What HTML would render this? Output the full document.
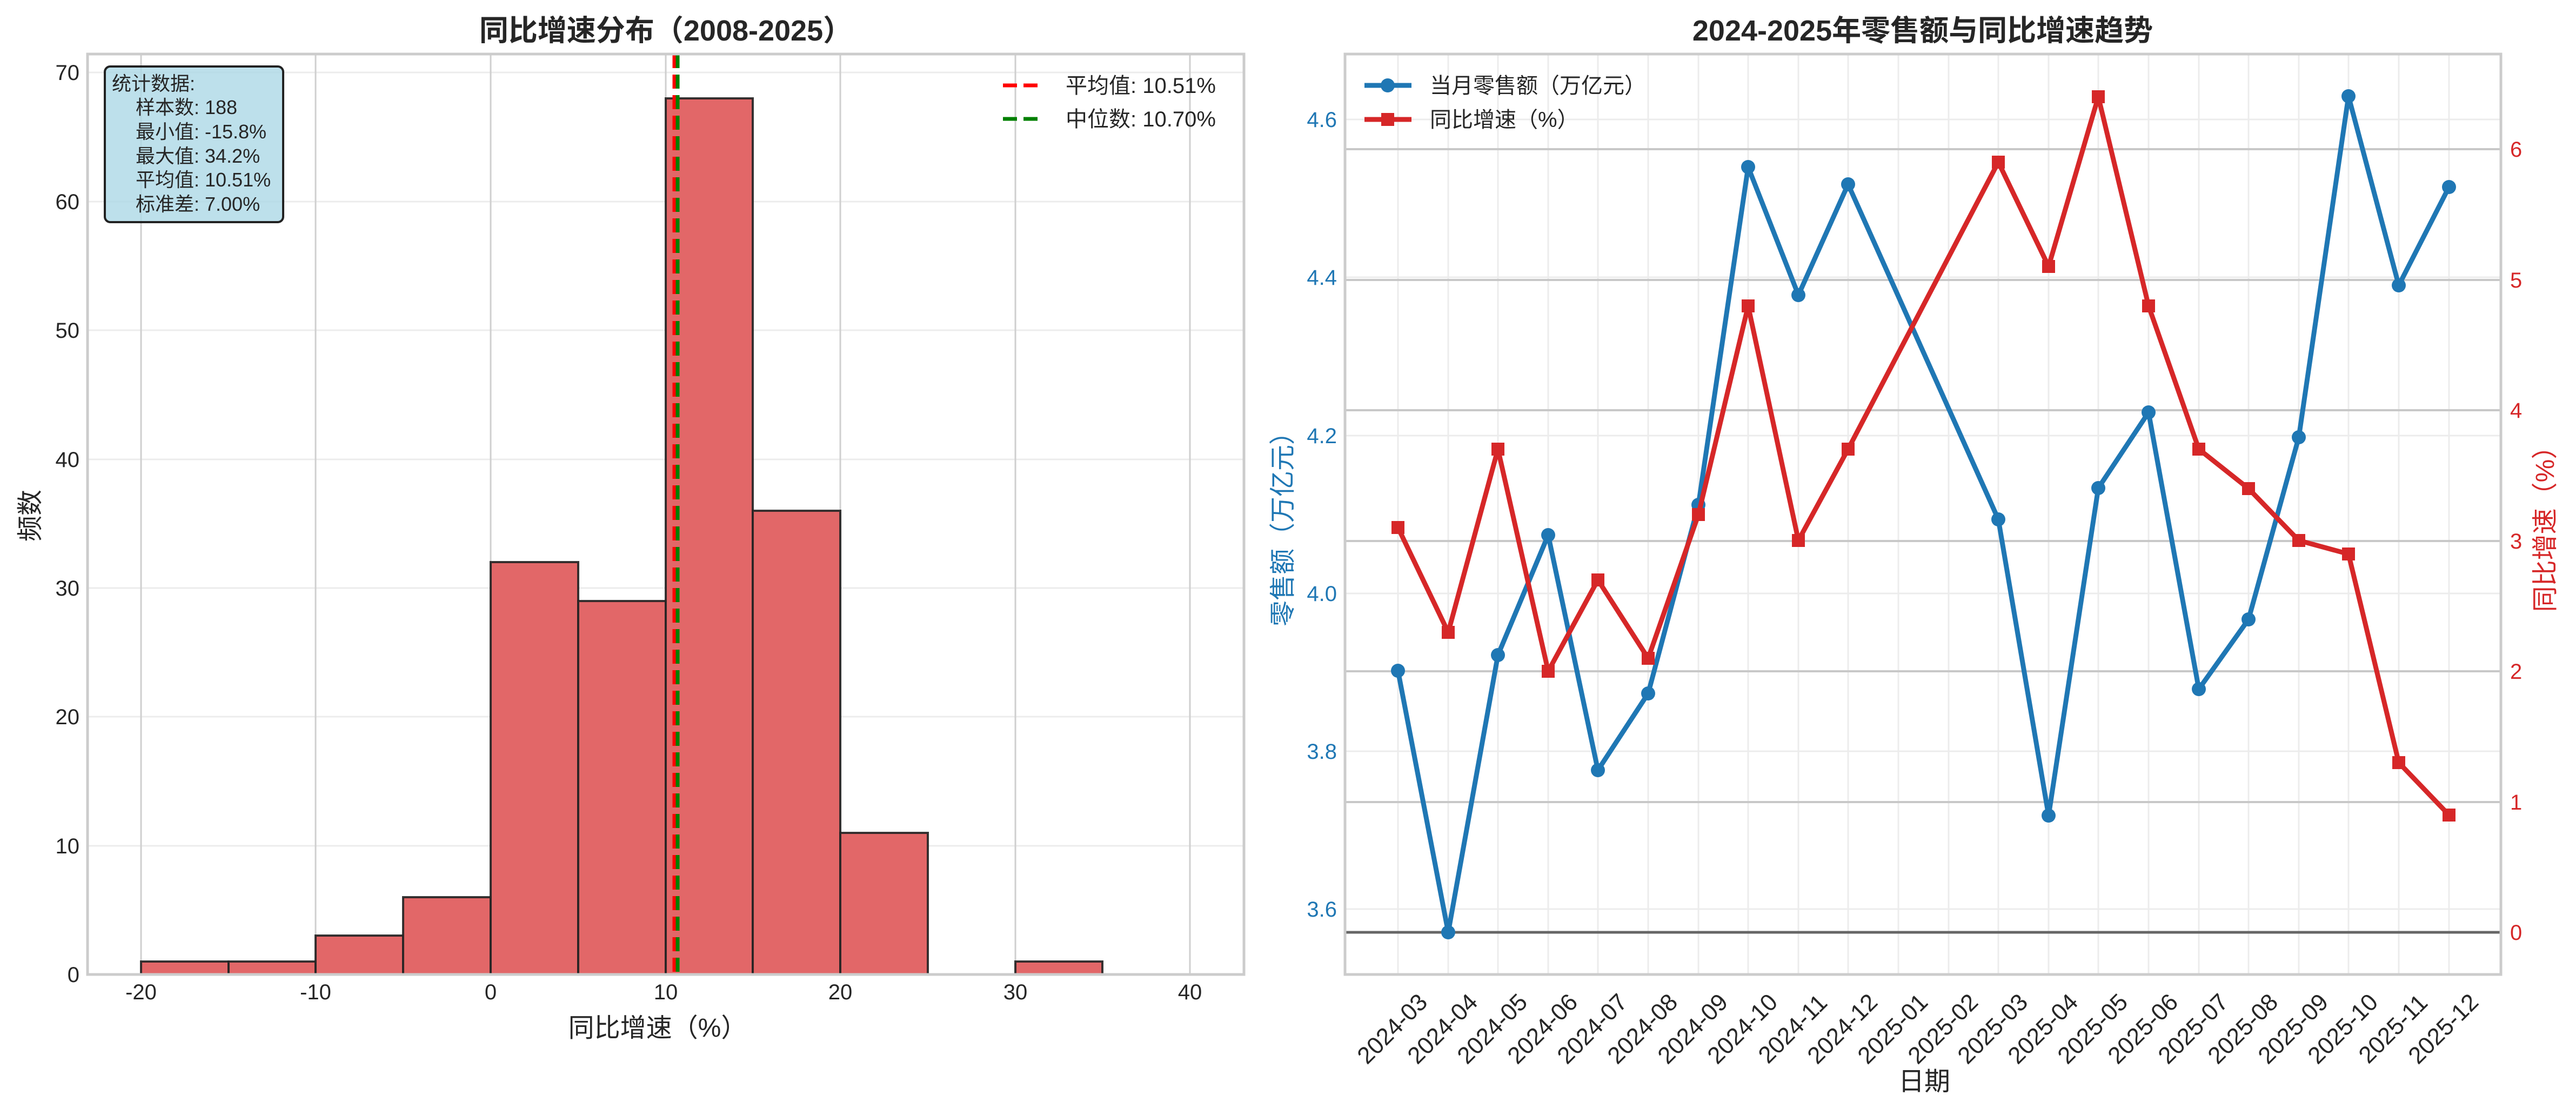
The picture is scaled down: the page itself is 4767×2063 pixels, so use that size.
<!DOCTYPE html>
<html><head><meta charset="utf-8"><style>html,body{margin:0;padding:0;background:#fff}svg{display:block}text{font-family:"Liberation Sans","Noto Sans CJK SC",sans-serif;fill:#262626}</style></head><body>
<svg width="4767" height="2063" viewBox="0 0 4767 2063" xmlns="http://www.w3.org/2000/svg">
<rect width="4767" height="2063" fill="#fff"/>
<!-- LEFT PANEL -->
<g stroke="#ececec" stroke-width="3">
<line x1="162" x2="2302" y1="1565" y2="1565"/><line x1="162" x2="2302" y1="1326" y2="1326"/><line x1="162" x2="2302" y1="1088" y2="1088"/><line x1="162" x2="2302" y1="850" y2="850"/><line x1="162" x2="2302" y1="611" y2="611"/><line x1="162" x2="2302" y1="373" y2="373"/><line x1="162" x2="2302" y1="134" y2="134"/>
</g>
<g stroke="#cfcfcf" stroke-width="3">
<line x1="261" x2="261" y1="100" y2="1803"/><line x1="584" x2="584" y1="100" y2="1803"/><line x1="908" x2="908" y1="100" y2="1803"/><line x1="1232" x2="1232" y1="100" y2="1803"/><line x1="1555" x2="1555" y1="100" y2="1803"/><line x1="1879" x2="1879" y1="100" y2="1803"/><line x1="2202" x2="2202" y1="100" y2="1803"/>
</g>
<g fill="#e26768" stroke="#222" stroke-width="4" stroke-opacity="0.9">
<rect x="261" y="1779" width="162" height="24"/><rect x="423" y="1779" width="161" height="24"/><rect x="584" y="1731" width="162" height="72"/><rect x="746" y="1660" width="162" height="143"/><rect x="908" y="1040" width="162" height="763"/><rect x="1070" y="1112" width="162" height="691"/><rect x="1232" y="182" width="161" height="1621"/><rect x="1393" y="945" width="162" height="858"/><rect x="1555" y="1541" width="162" height="262"/><rect x="1879" y="1779" width="161" height="24"/>
</g>
<line x1="1248" x2="1248" y1="100" y2="1803" stroke="#ff0000" stroke-width="7" stroke-dasharray="26,12"/>
<line x1="1254" x2="1254" y1="100" y2="1803" stroke="#008000" stroke-width="7" stroke-dasharray="26,12"/>
<rect x="162" y="100" width="2140" height="1703" fill="none" stroke="#cccccc" stroke-width="5"/>
<g font-size="40" text-anchor="end">
<text x="147" y="1817">0</text><text x="147" y="1579">10</text><text x="147" y="1340">20</text><text x="147" y="1102">30</text><text x="147" y="864">40</text><text x="147" y="625">50</text><text x="147" y="387">60</text><text x="147" y="148">70</text>
</g>
<g font-size="40" text-anchor="middle">
<text x="261" y="1849">-20</text><text x="584" y="1849">-10</text><text x="908" y="1849">0</text><text x="1232" y="1849">10</text><text x="1555" y="1849">20</text><text x="1879" y="1849">30</text><text x="2202" y="1849">40</text>
</g>
<text x="1217" y="1918" font-size="48" text-anchor="middle">同比增速（%）</text>
<text transform="translate(72,954) rotate(-90)" font-size="48" text-anchor="middle">频数</text>
<text x="1232" y="75" font-size="54" font-weight="bold" text-anchor="middle">同比增速分布（2008-2025）</text>
<rect x="194" y="123" width="330" height="288" rx="10" fill="#add8e6" fill-opacity="0.8" stroke="#222" stroke-width="4"/>
<g font-size="36">
<text x="207" y="167">统计数据:</text>
<text x="251" y="211">样本数: 188</text>
<text x="251" y="256">最小值: -15.8%</text>
<text x="251" y="301">最大值: 34.2%</text>
<text x="251" y="345">平均值: 10.51%</text>
<text x="251" y="390">标准差: 7.00%</text>
</g>
<line x1="1856" x2="1932" y1="158" y2="158" stroke="#ff0000" stroke-width="7" stroke-dasharray="26,12"/>
<line x1="1856" x2="1932" y1="220" y2="220" stroke="#008000" stroke-width="7" stroke-dasharray="26,12"/>
<g font-size="40"><text x="1972" y="172">平均值: 10.51%</text><text x="1972" y="234">中位数: 10.70%</text></g>

<!-- RIGHT PANEL -->
<g stroke="#ececec" stroke-width="3">
<line x1="2489" x2="4628" y1="1682" y2="1682"/><line x1="2489" x2="4628" y1="1390" y2="1390"/><line x1="2489" x2="4628" y1="1098" y2="1098"/><line x1="2489" x2="4628" y1="806" y2="806"/><line x1="2489" x2="4628" y1="513" y2="513"/><line x1="2489" x2="4628" y1="221" y2="221"/>
<line x1="2587" x2="2587" y1="100" y2="1803"/><line x1="2680" x2="2680" y1="100" y2="1803"/><line x1="2772" x2="2772" y1="100" y2="1803"/><line x1="2865" x2="2865" y1="100" y2="1803"/><line x1="2957" x2="2957" y1="100" y2="1803"/><line x1="3050" x2="3050" y1="100" y2="1803"/><line x1="3143" x2="3143" y1="100" y2="1803"/><line x1="3235" x2="3235" y1="100" y2="1803"/><line x1="3328" x2="3328" y1="100" y2="1803"/><line x1="3420" x2="3420" y1="100" y2="1803"/><line x1="3513" x2="3513" y1="100" y2="1803"/><line x1="3606" x2="3606" y1="100" y2="1803"/><line x1="3698" x2="3698" y1="100" y2="1803"/><line x1="3791" x2="3791" y1="100" y2="1803"/><line x1="3883" x2="3883" y1="100" y2="1803"/><line x1="3976" x2="3976" y1="100" y2="1803"/><line x1="4069" x2="4069" y1="100" y2="1803"/><line x1="4161" x2="4161" y1="100" y2="1803"/><line x1="4254" x2="4254" y1="100" y2="1803"/><line x1="4346" x2="4346" y1="100" y2="1803"/><line x1="4439" x2="4439" y1="100" y2="1803"/><line x1="4532" x2="4532" y1="100" y2="1803"/>
</g>
<g stroke="#c8c8c8" stroke-width="4">
<line x1="2489" x2="4628" y1="1484" y2="1484"/><line x1="2489" x2="4628" y1="1242" y2="1242"/><line x1="2489" x2="4628" y1="1001" y2="1001"/><line x1="2489" x2="4628" y1="759" y2="759"/><line x1="2489" x2="4628" y1="518" y2="518"/><line x1="2489" x2="4628" y1="276" y2="276"/>
</g>
<line x1="2489" x2="4628" y1="1725" y2="1725" stroke="#666" stroke-width="5"/>
<polyline fill="none" stroke="#1f77b4" stroke-width="9" stroke-linejoin="round" points="2587,1241 2680,1725 2772,1212 2865,990 2957,1425 3050,1283 3143,934 3235,309 3328,546 3420,341 3698,961 3791,1509 3883,903 3976,763 4069,1275 4161,1146 4254,809 4346,178 4439,528 4532,346"/>
<g fill="#1f77b4">
<circle cx="2587" cy="1241" r="13"/><circle cx="2680" cy="1725" r="13"/><circle cx="2772" cy="1212" r="13"/><circle cx="2865" cy="990" r="13"/><circle cx="2957" cy="1425" r="13"/><circle cx="3050" cy="1283" r="13"/><circle cx="3143" cy="934" r="13"/><circle cx="3235" cy="309" r="13"/><circle cx="3328" cy="546" r="13"/><circle cx="3420" cy="341" r="13"/><circle cx="3698" cy="961" r="13"/><circle cx="3791" cy="1509" r="13"/><circle cx="3883" cy="903" r="13"/><circle cx="3976" cy="763" r="13"/><circle cx="4069" cy="1275" r="13"/><circle cx="4161" cy="1146" r="13"/><circle cx="4254" cy="809" r="13"/><circle cx="4346" cy="178" r="13"/><circle cx="4439" cy="528" r="13"/><circle cx="4532" cy="346" r="13"/>
</g>
<polyline fill="none" stroke="#d62728" stroke-width="9" stroke-linejoin="round" points="2587,976 2680,1170 2772,831 2865,1242 2957,1073 3050,1218 3143,952 3235,566 3328,1000 3420,831 3698,300 3791,493 3883,179 3976,566 4069,831 4161,904 4254,1000 4346,1025 4439,1411 4532,1508"/>
<g fill="#d62728">
<rect x="2575" y="964" width="24" height="24"/><rect x="2668" y="1158" width="24" height="24"/><rect x="2760" y="819" width="24" height="24"/><rect x="2853" y="1230" width="24" height="24"/><rect x="2945" y="1061" width="24" height="24"/><rect x="3038" y="1206" width="24" height="24"/><rect x="3131" y="940" width="24" height="24"/><rect x="3223" y="554" width="24" height="24"/><rect x="3316" y="988" width="24" height="24"/><rect x="3408" y="819" width="24" height="24"/><rect x="3686" y="288" width="24" height="24"/><rect x="3779" y="481" width="24" height="24"/><rect x="3871" y="167" width="24" height="24"/><rect x="3964" y="554" width="24" height="24"/><rect x="4057" y="819" width="24" height="24"/><rect x="4149" y="892" width="24" height="24"/><rect x="4242" y="988" width="24" height="24"/><rect x="4334" y="1013" width="24" height="24"/><rect x="4427" y="1399" width="24" height="24"/><rect x="4520" y="1496" width="24" height="24"/>
</g>
<rect x="2489" y="100" width="2139" height="1703" fill="none" stroke="#cccccc" stroke-width="5"/>
<g font-size="40" text-anchor="end">
<text x="2474" y="1696" style="fill:#1f77b4">3.6</text><text x="2474" y="1404" style="fill:#1f77b4">3.8</text><text x="2474" y="1112" style="fill:#1f77b4">4.0</text><text x="2474" y="820" style="fill:#1f77b4">4.2</text><text x="2474" y="527" style="fill:#1f77b4">4.4</text><text x="2474" y="235" style="fill:#1f77b4">4.6</text>
</g>
<g font-size="40">
<text x="4645" y="1739" style="fill:#d62728">0</text><text x="4645" y="1498" style="fill:#d62728">1</text><text x="4645" y="1256" style="fill:#d62728">2</text><text x="4645" y="1015" style="fill:#d62728">3</text><text x="4645" y="773" style="fill:#d62728">4</text><text x="4645" y="532" style="fill:#d62728">5</text><text x="4645" y="290" style="fill:#d62728">6</text>
</g>
<g font-size="44" text-anchor="middle">
<text transform="translate(2587,1914) rotate(-45)">2024-03</text><text transform="translate(2680,1914) rotate(-45)">2024-04</text><text transform="translate(2772,1914) rotate(-45)">2024-05</text><text transform="translate(2865,1914) rotate(-45)">2024-06</text><text transform="translate(2957,1914) rotate(-45)">2024-07</text><text transform="translate(3050,1914) rotate(-45)">2024-08</text><text transform="translate(3143,1914) rotate(-45)">2024-09</text><text transform="translate(3235,1914) rotate(-45)">2024-10</text><text transform="translate(3328,1914) rotate(-45)">2024-11</text><text transform="translate(3420,1914) rotate(-45)">2024-12</text><text transform="translate(3513,1914) rotate(-45)">2025-01</text><text transform="translate(3606,1914) rotate(-45)">2025-02</text><text transform="translate(3698,1914) rotate(-45)">2025-03</text><text transform="translate(3791,1914) rotate(-45)">2025-04</text><text transform="translate(3883,1914) rotate(-45)">2025-05</text><text transform="translate(3976,1914) rotate(-45)">2025-06</text><text transform="translate(4069,1914) rotate(-45)">2025-07</text><text transform="translate(4161,1914) rotate(-45)">2025-08</text><text transform="translate(4254,1914) rotate(-45)">2025-09</text><text transform="translate(4346,1914) rotate(-45)">2025-10</text><text transform="translate(4439,1914) rotate(-45)">2025-11</text><text transform="translate(4532,1914) rotate(-45)">2025-12</text>
</g>
<text x="3561" y="2017" font-size="48" text-anchor="middle">日期</text>
<text transform="translate(2390,967) rotate(-90)" font-size="48" text-anchor="middle" style="fill:#1f77b4">零售额（万亿元）</text>
<text transform="translate(4726,967) rotate(-90)" font-size="48" text-anchor="middle" style="fill:#d62728">同比增速（%）</text>
<text x="3558" y="75" font-size="54" font-weight="bold" text-anchor="middle">2024-2025年零售额与同比增速趋势</text>
<line x1="2525" x2="2612" y1="158" y2="158" stroke="#1f77b4" stroke-width="9"/><circle cx="2568" cy="158" r="13" fill="#1f77b4"/>
<line x1="2525" x2="2612" y1="221" y2="221" stroke="#d62728" stroke-width="9"/><rect x="2556" y="209" width="24" height="24" fill="#d62728"/>
<g font-size="40"><text x="2646" y="172">当月零售额（万亿元）</text><text x="2646" y="235">同比增速（%）</text></g>
</svg>
</body></html>
